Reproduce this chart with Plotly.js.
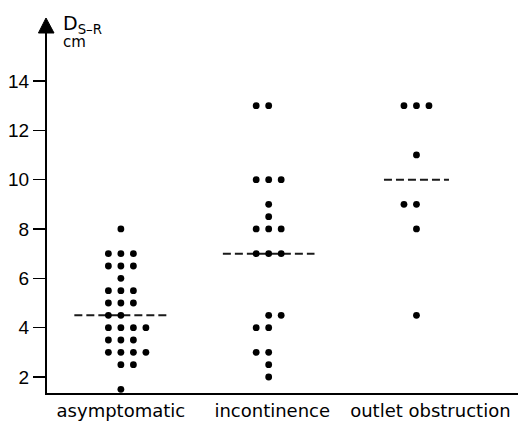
<!DOCTYPE html>
<html>
<head>
<meta charset="utf-8">
<script src="https://cdn.plot.ly/plotly-3.0.1.min.js"></script>
<style>html,body{margin:0;padding:0;background:#fff;}</style>
</head>
<body>
<div id="chart" style="width:519px;height:424px;"></div>
<script>
// ---- data ----
const categories = ['asymptomatic', 'incontinence', 'outlet obstruction'];
const asymValues = [8, 7, 7, 7, 6.5, 6.5, 6.5, 6, 5.5, 5.5, 5.5, 5, 5, 5, 4.5, 4.5, 4, 4, 4, 4, 3.5, 3.5, 3.5, 3, 3, 3, 3, 2.5, 2.5, 1.5];
const asymCols   = [0, -1, 0, 1, -1, 0, 1, 0, -1, 0, 1, -1, 0, 1, -1, 0, -1, 0, 1, 2, -1, 0, 1, -1, 0, 1, 2, 0, 1, 0];
const incValues  = [13, 13, 10, 10, 10, 9, 8.5, 8, 8, 8, 7, 7, 7, 4.5, 4.5, 4, 4, 3, 3, 2.5, 2];
const incCols    = [-1, 0, -1, 0, 1, 0, 0, -1, 0, 1, -1, 0, 1, 0, 1, -1, 0, -1, 0, 0, 0];
const outValues  = [13, 13, 13, 11, 9, 9, 8, 4.5];
const outCols    = [-1, 0, 1, 0, -1, 0, 0, 0];
const yTicks     = [2, 4, 6, 8, 10, 12, 14];

// ---- styling ----
const colStep = 0.0846;
const medianHalfWidth = [0.315, 0.31, 0.22];
const labelPos = [1.0, 2.024, 3.094];

function median(a) {
  const s = a.slice().sort((p, q) => p - q);
  const n = s.length;
  return n % 2 ? s[(n - 1) / 2] : (s[n / 2 - 1] + s[n / 2]) / 2;
}

const groups = [
  {values: asymValues, cols: asymCols},
  {values: incValues, cols: incCols},
  {values: outValues, cols: outCols}
];

const traces = [];
groups.forEach((g, i) => {
  const center = i + 1;
  const m = median(g.values);
  traces.push({
    type: 'scatter', mode: 'lines',
    x: [center - medianHalfWidth[i], center + medianHalfWidth[i]],
    y: [m, m],
    line: {color: '#1a1a1a', width: 2, dash: '8px,4px'},
    hoverinfo: 'skip', showlegend: false
  });
  traces.push({
    type: 'scatter', mode: 'markers',
    x: g.cols.map(c => center + c * colStep),
    y: g.values,
    marker: {color: '#000', size: 6.8},
    hoverinfo: 'skip', showlegend: false
  });
});

const layout = {
  width: 519, height: 424,
  margin: {l: 47, r: 1, t: 33, b: 31},
  paper_bgcolor: '#fff', plot_bgcolor: '#fff',
  showlegend: false,
  xaxis: {
    range: [0.5, 3.687],
    tickmode: 'array', tickvals: labelPos, ticktext: categories,
    ticks: '', showgrid: false, zeroline: false,
    showline: true, linecolor: '#000', linewidth: 2,
    tickfont: {family: 'DejaVu Sans', size: 18, color: '#000'},
    fixedrange: true
  },
  yaxis: {
    range: [1.351, 15.944],
    tickmode: 'array', tickvals: yTicks, ticktext: yTicks.map(String),
    ticks: 'outside', ticklen: 12, tickwidth: 1.5, tickcolor: '#000',
    showgrid: false, zeroline: false,
    showline: true, linecolor: '#000', linewidth: 2,
    tickfont: {family: 'Liberation Sans', size: 19, color: '#000'},
    fixedrange: true
  },
  shapes: [{
    type: 'path', xref: 'paper', yref: 'paper',
    path: 'M -0.0182 1.0 L -0.0021 1.0417 L 0.0149 1.0 Z',
    fillcolor: '#000', line: {color: '#000', width: 1}
  }],
  annotations: [
    {xref: 'paper', yref: 'paper', x: 0.030, y: 1.064, xanchor: 'left', yanchor: 'top',
     text: 'D<sub>S–R</sub>', showarrow: false,
     font: {family: 'DejaVu Sans', size: 19, color: '#000'}},
    {xref: 'paper', yref: 'paper', x: 0.030, y: 0.975, xanchor: 'left', yanchor: 'middle',
     text: 'cm', showarrow: false,
     font: {family: 'DejaVu Sans', size: 15, color: '#000'}}
  ]
};

Plotly.newPlot('chart', traces, layout, {displayModeBar: false, staticPlot: true});
</script>
</body>
</html>
